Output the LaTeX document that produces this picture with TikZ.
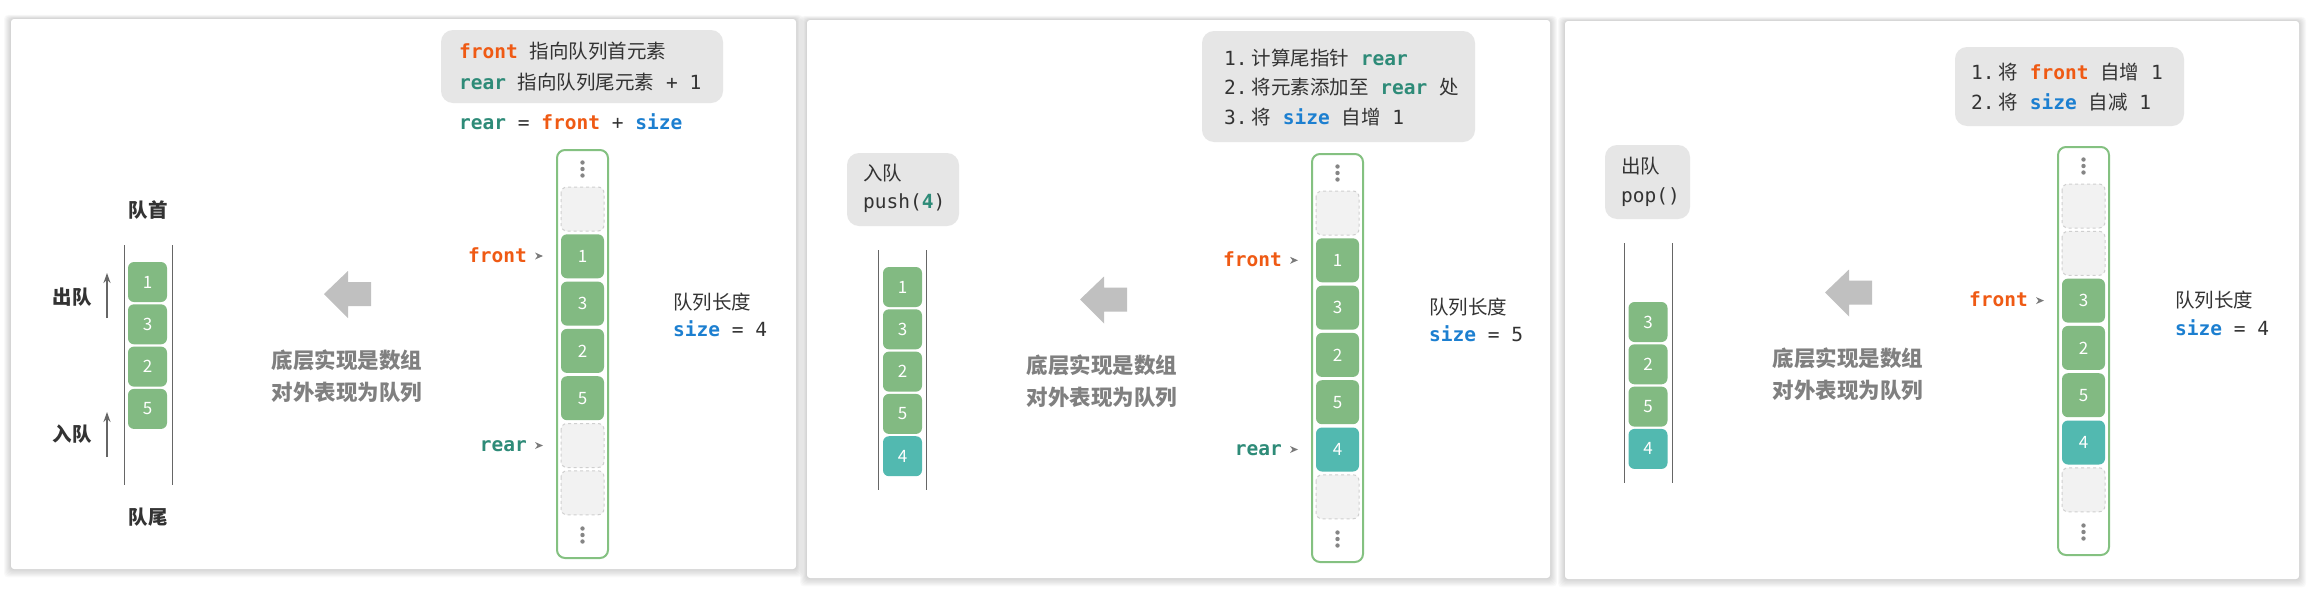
\documentclass[tikz,border=0pt]{standalone}
\usepackage{fontspec}
\usetikzlibrary{arrows.meta}
\setmainfont{Noto Sans CJK SC}
\newfontfamily\cjk{Noto Sans CJK SC}
\newfontfamily\mono{DejaVu Sans Mono}
\definecolor{cfront}{HTML}{EF5A14}
\definecolor{crear}{HTML}{2E8B78}
\definecolor{csize}{HTML}{1C7FD0}
\definecolor{cgreen}{HTML}{82BA82}
\definecolor{cteal}{HTML}{52B9B0}
\definecolor{cborder}{HTML}{84C181}
\definecolor{cempty}{HTML}{F2F2F2}
\definecolor{cdash}{HTML}{CFCFCF}
\definecolor{cbox}{HTML}{E6E6E6}
\definecolor{carrow}{HTML}{C0C0C0}
\definecolor{cgraytext}{HTML}{808080}
\definecolor{ctext}{HTML}{333333}
\definecolor{cdot}{HTML}{858585}
\definecolor{cmark}{HTML}{7A7A7A}
\definecolor{cqline}{HTML}{666666}
\newcommand\kwfront{{\bfseries\color{cfront}front}}
\newcommand\kwrear{{\bfseries\color{crear}rear}}
\newcommand\kwsize{{\bfseries\color{csize}size}}
\tikzset{
  txt/.style={inner sep=0pt, anchor=base west, text=ctext, font=\fontsize{19.5}{23}\selectfont},
  code/.style={inner sep=0pt, anchor=base west, text=ctext, font=\mono\fontsize{19.5}{23}\selectfont},
  boldtxt/.style={inner sep=0pt, text=ctext, font=\bfseries\fontsize{19.5}{23}\selectfont},
  graytxt/.style={inner sep=0pt, text=cgraytext, font=\bfseries\fontsize{21.5}{25}\selectfont},
  colb/.style={draw=cborder, line width=2pt, rounded corners=8pt, fill=white},
  ecell/.style={draw=cdash, dashed, line width=1pt, fill=cempty, rounded corners=6pt},
  gcell/.style={fill=cgreen, rounded corners=6pt, minimum width=43pt, minimum height=44pt, inner sep=0pt, text=white, font=\fontsize{17}{20}\selectfont},
  tcell/.style={gcell, fill=cteal},
  gq/.style={gcell, minimum width=39pt, minimum height=40pt},
  tq/.style={gq, fill=cteal},
  qline/.style={draw=cqline, line width=1pt},
  uparrow/.style={draw=cqline, line width=2pt, -{Stealth[length=10pt,width=7pt]}},
  legend/.style={fill=cbox, rounded corners=12pt},
}
\newcommand\panelbox[4]{%
  \foreach \i in {1,...,7} {\fill[black, opacity=0.022, rounded corners=4pt] (#1-\i,#2-0.6*\i) rectangle (#3+\i,#4+1.2*\i);}
  \fill[white, rounded corners=3pt] (#1,#2) rectangle (#3,#4);}
\newcommand\threedots[2]{\fill[cdot] (#1,#2-6.5) circle (2.2pt) (#1,#2) circle (2.2pt) (#1,#2+6.5) circle (2.2pt);}
\newcommand\colframe[2]{%
  \draw[colb] (#1,#2) rectangle ++(51,408);
  \threedots{#1+25.5}{#2+19}
  \threedots{#1+25.5}{#2+385}}
\newcommand\ecell[3]{\draw[ecell] (#1+4,#2+37+#3*47.3) rectangle ++(43,44);}
\newcommand\fcell[6]{\node[#5] (#1) at (#2+25.5,#3+59+#4*47.3) {#6};}
\newcommand\marker[1]{\fill[cmark] (#1) ++(0,-3.5) -- ++(8,3.5) -- ++(-8,3.5) -- ++(2.5,-3.5) -- cycle;}
\newcommand\bigarrow[2]{\fill[carrow] (#1,#2) -- (#1+24,#2-23) -- (#1+24,#2-12) -- (#1+47,#2-12) -- (#1+47,#2+12) -- (#1+24,#2+12) -- (#1+24,#2+24) -- cycle;}
\begin{document}
\begin{tikzpicture}[x=1pt,y=-1pt]
\useasboundingbox (0,0) rectangle (2319,595);
\fill[white] (0,0) rectangle (2319,595);
% ---------------- panel frames
\panelbox{11}{19}{796}{569}
\panelbox{807}{20}{1550}{578}
\panelbox{1565}{21}{2299}{579}

% ================= Panel 1
\fill[legend] (441,30) rectangle (723,103);
\node[code] (p1l1) at (459,58) {\kwfront\ {\cjk 指向队列首元素}};
\node[code] (p1l2) at (459,89) {\kwrear\ {\cjk 指向队列尾元素} + 1};
\node[code] (p1f) at (459,129) {\kwrear{} = \kwfront{} + \kwsize};
\colframe{557}{150}
\ecell{557}{150}{0}
\fcell{p1a1}{557}{150}{1}{gcell}{1}
\fcell{p1a2}{557}{150}{2}{gcell}{3}
\fcell{p1a3}{557}{150}{3}{gcell}{2}
\fcell{p1a4}{557}{150}{4}{gcell}{5}
\ecell{557}{150}{5}
\ecell{557}{150}{6}
\node[code, anchor=base east] (p1front) at (527,262) {\kwfront};
\coordinate (p1fm) at (535,256); \marker{p1fm}
\node[code, anchor=base east] (p1rear) at (527,451) {\kwrear};
\coordinate (p1rm) at (535,445.5); \marker{p1rm}
\node[txt] (p1len) at (673,309) {队列长度};
\node[code] (p1size) at (673,336) {\kwsize{} = 4};
\bigarrow{324}{294}
\node[graytxt] (p1t1) at (347,360) {底层实现是数组};
\node[graytxt] (p1t2) at (347,392) {对外表现为队列};
\draw[qline] (124,245) -- (124,485);
\draw[qline] (172,245) -- (172,485);
\node[gq] (p1q1) at (147.5,282) {1};
\node[gq] (p1q2) at (147.5,324.3) {3};
\node[gq] (p1q3) at (147.5,366.6) {2};
\node[gq] (p1q4) at (147.5,408.9) {5};
\node[boldtxt] (p1head) at (148,210) {队首};
\node[boldtxt] (p1tail) at (148,517) {队尾};
\node[boldtxt] (p1out) at (72,297) {出队};
\node[boldtxt] (p1in) at (72,434) {入队};
\coordinate (p1oa) at (107,318); \coordinate (p1ob) at (107,273);
\draw[uparrow] (p1oa) -- (p1ob);
\coordinate (p1ia) at (107,457); \coordinate (p1ib) at (107,412);
\draw[uparrow] (p1ia) -- (p1ib);

% ================= Panel 2
\fill[legend] (1202,31) rectangle (1475,142);
\node[code] (p2l1) at (1224,65) {1.\hspace{4pt}{\cjk 计算尾指针} \kwrear};
\node[code] (p2l2) at (1224,94) {2.\hspace{4pt}{\cjk 将元素添加至} \kwrear{} {\cjk 处}};
\node[code] (p2l3) at (1224,124) {3.\hspace{4pt}{\cjk 将} \kwsize{} {\cjk 自增} 1};
\fill[legend] (847,153) rectangle (959,226);
\node[txt] (p2op) at (863,180) {入队};
\node[code] (p2push) at (863,208) {push({\bfseries\color{crear}4})};
\draw[qline] (878.5,250) -- (878.5,490);
\draw[qline] (926.5,250) -- (926.5,490);
\node[gq] (p2q1) at (902.5,287) {1};
\node[gq] (p2q2) at (902.5,329.3) {3};
\node[gq] (p2q3) at (902.5,371.6) {2};
\node[gq] (p2q4) at (902.5,413.9) {5};
\node[tq] (p2q5) at (902.5,456.2) {4};
\bigarrow{1080}{299.5}
\node[graytxt] (p2t1) at (1102,365) {底层实现是数组};
\node[graytxt] (p2t2) at (1102,397) {对外表现为队列};
\colframe{1312}{154}
\ecell{1312}{154}{0}
\fcell{p2a1}{1312}{154}{1}{gcell}{1}
\fcell{p2a2}{1312}{154}{2}{gcell}{3}
\fcell{p2a3}{1312}{154}{3}{gcell}{2}
\fcell{p2a4}{1312}{154}{4}{gcell}{5}
\fcell{p2a5}{1312}{154}{5}{tcell}{4}
\ecell{1312}{154}{6}
\node[code, anchor=base east] (p2front) at (1282,266.3) {\kwfront};
\coordinate (p2fm) at (1290,260.3); \marker{p2fm}
\node[code, anchor=base east] (p2rear) at (1282,455.5) {\kwrear};
\coordinate (p2rm) at (1290,449.5); \marker{p2rm}
\node[txt] (p2len) at (1429,314) {队列长度};
\node[code] (p2size) at (1429,341) {\kwsize{} = 5};

% ================= Panel 3
\fill[legend] (1955,47) rectangle (2184,126);
\node[code] (p3l1) at (1971,79) {1.\hspace{4pt}{\cjk 将} \kwfront{} {\cjk 自增} 1};
\node[code] (p3l2) at (1971,109) {2.\hspace{4pt}{\cjk 将} \kwsize{} {\cjk 自减} 1};
\fill[legend] (1605,145) rectangle (1690,219);
\node[txt] (p3op) at (1621,173) {出队};
\node[code] (p3pop) at (1621,202) {pop()};
\draw[qline] (1624,243) -- (1624,483);
\draw[qline] (1672,243) -- (1672,483);
\node[gq] (p3q1) at (1648,322) {3};
\node[gq] (p3q2) at (1648,364.3) {2};
\node[gq] (p3q3) at (1648,406.6) {5};
\node[tq] (p3q4) at (1648,448.9) {4};
\bigarrow{1825}{292.5}
\node[graytxt] (p3t1) at (1848,358) {底层实现是数组};
\node[graytxt] (p3t2) at (1848,390) {对外表现为队列};
\colframe{2058}{147}
\ecell{2058}{147}{0}
\ecell{2058}{147}{1}
\fcell{p3a2}{2058}{147}{2}{gcell}{3}
\fcell{p3a3}{2058}{147}{3}{gcell}{2}
\fcell{p3a4}{2058}{147}{4}{gcell}{5}
\fcell{p3a5}{2058}{147}{5}{tcell}{4}
\ecell{2058}{147}{6}
\node[code, anchor=base east] (p3front) at (2028,306.6) {\kwfront};
\coordinate (p3fm) at (2036,300.6); \marker{p3fm}
\node[txt] (p3len) at (2175,307) {队列长度};
\node[code] (p3size) at (2175,335) {\kwsize{} = 4};
\end{tikzpicture}
\end{document}
